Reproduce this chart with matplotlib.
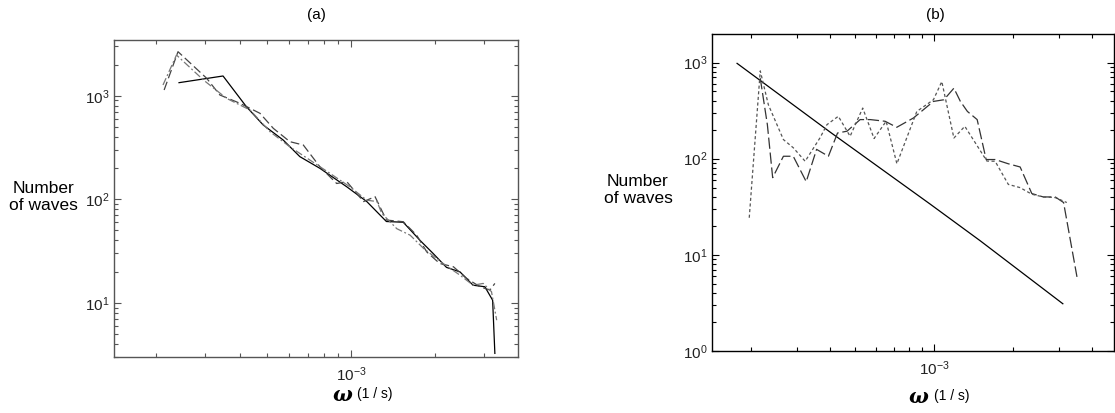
import matplotlib
matplotlib.use("Agg")
import matplotlib.pyplot as plt
from matplotlib.ticker import LogLocator, NullFormatter, LogFormatterSciNotation

plt.rcParams['font.family'] = ['Liberation Sans', 'DejaVu Sans']
plt.rcParams['mathtext.fontset'] = 'custom'
plt.rcParams['mathtext.rm'] = 'Liberation Sans'
plt.rcParams['mathtext.it'] = 'Liberation Sans:italic'
plt.rcParams['mathtext.bf'] = 'Liberation Sans:bold'

# ---------------- Panel (a) data ----------------
a_solid_x = [2.42e-4, 3.48e-4, 4.22e-4, 4.85e-4, 5.72e-4, 6.56e-4, 7.74e-4, 9.66e-4,
             1.14e-3, 1.34e-3, 1.54e-3, 1.77e-3, 1.97e-3, 2.2e-3, 2.46e-3, 2.74e-3,
             3.02e-3, 3.22e-3, 3.28e-3]
a_solid_y = [1336, 1550, 783, 521, 373, 258, 199, 132,
             95, 61, 60, 40, 30, 22, 19.9, 14.8,
             14.3, 10.6, 3.25]

a_dash_x = [2.14e-4, 2.40e-4, 3.04e-4, 3.39e-4, 4.0e-4, 4.72e-4, 5.27e-4, 6.04e-4,
            6.75e-4, 7.74e-4, 8.89e-4, 9.66e-4, 1.11e-3, 1.22e-3, 1.34e-3, 1.54e-3,
            1.72e-3, 1.87e-3, 2.08e-3, 2.33e-3, 2.6e-3, 2.9e-3, 3.15e-3, 3.28e-3]
a_dash_y = [1135, 2660, 1473, 1016, 845, 676, 484, 360,
            334, 206, 142, 148, 95, 106, 63, 60.7,
            45, 31, 24, 22.3, 17.2, 14.3, 13.3, 15.4]

a_dashdot_x = [2.12e-4, 2.37e-4, 2.96e-4, 3.58e-4, 4.35e-4, 5.13e-4, 6.04e-4, 7.13e-4,
               8.41e-4, 9.91e-4, 1.14e-3, 1.24e-3, 1.29e-3, 1.46e-3, 1.63e-3, 1.82e-3,
               2.14e-3, 2.46e-3, 2.74e-3, 2.98e-3, 3.19e-3, 3.33e-3]
a_dashdot_y = [1269, 2470, 1418, 944, 727, 449, 321, 239,
               178, 132, 98, 95, 73, 52, 45, 33.6,
               24, 18.5, 14.8, 15.4, 12.8, 6.8]

# ---------------- Panel (b) data ----------------
b_solid_x = [1.77e-4, 4.0e-4, 9.66e-4, 1.5e-3, 3.1e-3]
b_solid_y = [980, 190, 33.7, 14.0, 3.1]

b_dash_x = [2.17e-4, 2.31e-4, 2.42e-4, 2.66e-4, 2.9e-4, 3.25e-4, 3.56e-4, 3.95e-4,
            4.28e-4, 4.65e-4, 5.22e-4, 5.71e-4, 6.5e-4, 7.2e-4, 8.34e-4, 9.94e-4,
            1.09e-3, 1.19e-3, 1.26e-3, 1.34e-3, 1.46e-3, 1.58e-3, 1.71e-3, 1.92e-3,
            2.13e-3, 2.36e-3, 2.61e-3, 2.9e-3, 3.12e-3, 3.51e-3]
b_dash_y = [687, 226, 63.5, 106, 106, 57.7, 125, 106,
            185, 193, 255, 255, 245, 212, 265, 394,
            410, 541, 394, 310, 255, 98, 98, 88.5,
            82, 43.4, 40, 40, 35, 5.9]

b_dot_x = [1.97e-4, 2.17e-4, 2.33e-4, 2.66e-4, 2.9e-4, 3.22e-4, 3.67e-4, 3.9e-4,
           4.31e-4, 4.78e-4, 5.34e-4, 5.9e-4, 6.56e-4, 7.21e-4, 8.59e-4, 9.94e-4,
           1.07e-3, 1.19e-3, 1.31e-3, 1.59e-3, 1.71e-3, 1.92e-3, 2.13e-3, 2.36e-3,
           2.61e-3, 2.9e-3, 3.21e-3]
b_dot_y = [24.3, 819, 364, 158, 130, 94, 165, 226,
           276, 171, 336, 162, 245, 88.6, 310, 410,
           634, 164, 217, 94.5, 94, 54, 50, 42.7,
           40, 39.4, 35]

W, H = 1115, 413
fig = plt.figure(figsize=(W / 100, H / 100), dpi=100)


def style_axes(ax, spine_color):
    ax.set_xscale('log')
    ax.set_yscale('log')
    for s in ax.spines.values():
        s.set_color(spine_color)
        s.set_linewidth(1.0)
    ax.xaxis.set_major_locator(LogLocator(base=10, numticks=10))
    ax.xaxis.set_minor_locator(LogLocator(base=10, subs=range(2, 10), numticks=20))
    ax.yaxis.set_major_locator(LogLocator(base=10, numticks=10))
    ax.yaxis.set_minor_locator(LogLocator(base=10, subs=range(2, 10), numticks=20))
    ax.xaxis.set_minor_formatter(NullFormatter())
    ax.yaxis.set_minor_formatter(NullFormatter())
    ax.xaxis.set_major_formatter(LogFormatterSciNotation())
    ax.yaxis.set_major_formatter(LogFormatterSciNotation())
    ax.tick_params(which='both', direction='in', top=True, right=True,
                   colors=spine_color, labelcolor='#222222', labelsize=11)
    ax.tick_params(which='major', length=5, width=0.8)
    ax.tick_params(which='minor', length=3, width=0.8)
    ax.tick_params(axis='x', which='major', pad=6)
    ax.tick_params(axis='y', which='major', pad=3)


# Panel (a)
axa = fig.add_axes([114 / W, 1 - 357 / H, 404 / W, 317 / H])
style_axes(axa, '#555555')
axa.plot(a_solid_x, a_solid_y, color='black', lw=0.9, ls='-')
axa.plot(a_dash_x, a_dash_y, color='#444444', lw=0.9, ls=(0, (7, 3)))
axa.plot(a_dashdot_x, a_dashdot_y, color='#777777', lw=0.9, ls=(0, (6, 2, 1.5, 2)))
axa.set_xlim(1.415e-4, 3.97e-3)
axa.set_ylim(3.0, 3450)

# Panel (b)
axb = fig.add_axes([712 / W, 1 - 351 / H, 402 / W, 317 / H])
style_axes(axb, 'black')
axb.plot(b_solid_x, b_solid_y, color='black', lw=0.9, ls='-')
axb.plot(b_dash_x, b_dash_y, color='#333333', lw=0.9, ls=(0, (9, 3)))
axb.plot(b_dot_x, b_dot_y, color='#555555', lw=0.9, ls=(0, (2.5, 2)))
axb.set_xlim(1.42e-4, 4.86e-3)
axb.set_ylim(1.0, 1980)


def ftext(x, y, s, **kw):
    fig.text(x / W, 1 - y / H, s, **kw)


# titles
ftext(316, 15, '(a)', ha='center', va='center', fontsize=11)
ftext(935, 15, '(b)', ha='center', va='center', fontsize=11)

# y labels
ftext(43, 197, 'Number\nof waves', ha='center', va='center', fontsize=12.5,
      linespacing=1.2)
ftext(638, 190, 'Number\nof waves', ha='center', va='center', fontsize=12.5,
      linespacing=1.2)

# x labels
for wx, ux, yy in [(342, 375, 395), (918, 952, 397)]:
    ftext(wx, yy, '\u03c9', ha='center', va='center', fontsize=15,
          family='DejaVu Serif', style='italic', weight='bold')
    ftext(ux, yy - 1, '(1 / s)', ha='center', va='center', fontsize=10)

fig.savefig('out.png', dpi=100)
